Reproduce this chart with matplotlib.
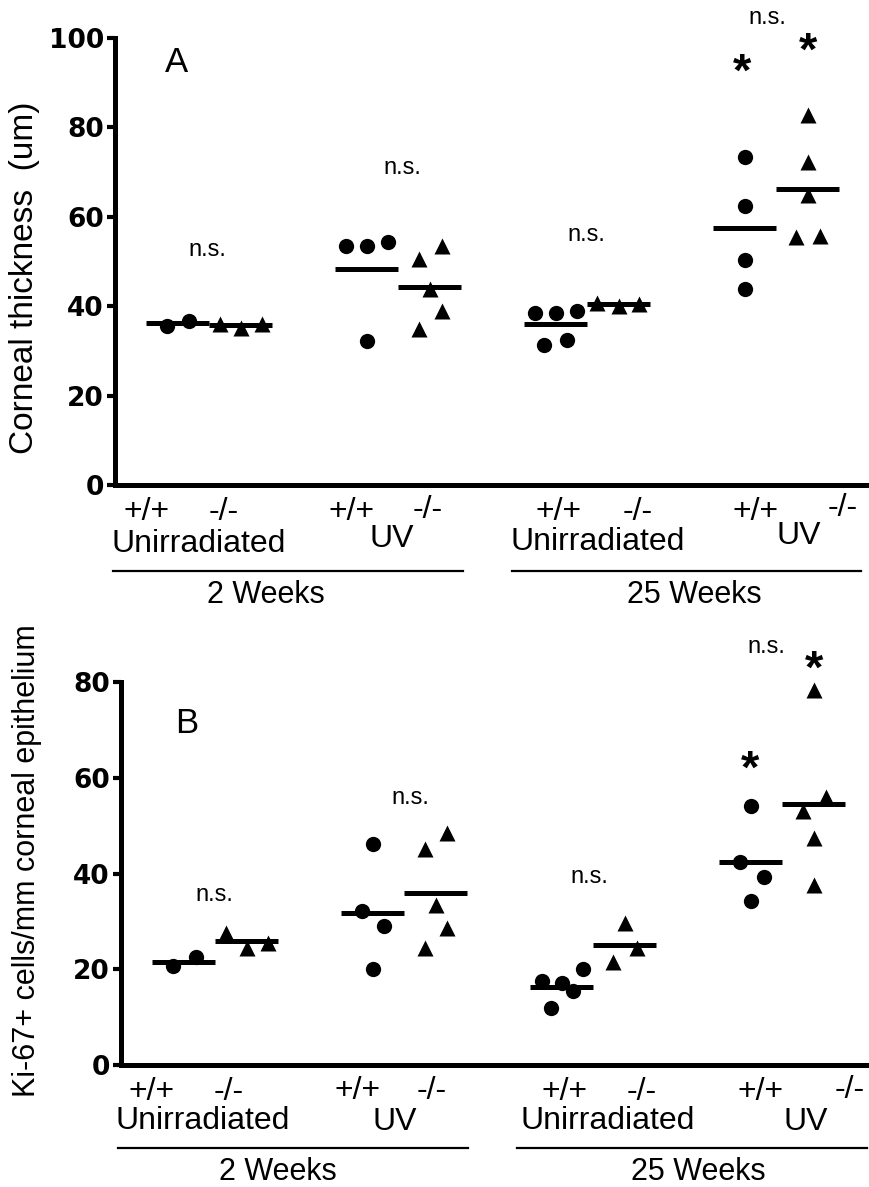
import matplotlib
matplotlib.use("Agg")
import matplotlib.pyplot as plt
from matplotlib.lines import Line2D
import numpy as np

plt.rcParams['font.family'] = ['Liberation Sans', 'DejaVu Sans']

# group order: 2wk unirr +/+, -/-, 2wk UV +/+, -/-, 25wk unirr +/+, -/-, 25wk UV +/+, -/-
group_pos = [0, 1, 3, 4, 6, 7, 9, 10]
genotypes = ['+/+', '-/-', '+/+', '-/-', '+/+', '-/-', '+/+', '-/-']
treatments = ['Unirradiated', 'UV', 'Unirradiated', 'UV']
timepoints = ['2 Weeks', '25 Weeks']

# panel A - corneal thickness (um)
thick_wt_2w_unirr = [35.6, 36.7]
thick_ko_2w_unirr = [36.0, 35.2, 36.0]
thick_wt_2w_uv = [53.5, 53.5, 54.4, 32.2]
thick_ko_2w_uv = [53.5, 50.6, 43.8, 38.9, 34.9]
thick_wt_25w_unirr = [38.5, 38.5, 38.9, 31.3, 32.4]
thick_ko_25w_unirr = [40.8, 40.0, 40.6]
thick_wt_25w_uv = [73.4, 62.4, 50.3, 43.8]
thick_ko_25w_uv = [82.8, 72.3, 64.9, 55.5, 55.7]

# panel B - Ki-67+ cells/mm
ki_wt_2w_unirr = [20.7, 22.5]
ki_ko_2w_unirr = [27.5, 24.5, 25.5]
ki_wt_2w_uv = [46.1, 32.2, 29.0, 20.0]
ki_ko_2w_uv = [48.4, 45.1, 33.4, 28.6, 24.4]
ki_wt_25w_unirr = [17.5, 17.1, 15.4, 20.0, 11.9]
ki_ko_25w_unirr = [29.6, 24.4, 21.5]
ki_wt_25w_uv = [54.1, 42.4, 39.2, 34.2]
ki_ko_25w_uv = [78.3, 56.0, 53.0, 47.4, 37.6]

# horizontal scatter of the points inside a column (x units)
spread_a = [[-0.17, 0.17], [-0.33, 0, 0.33], [-0.33, 0, 0.33, 0],
            [0.19, -0.17, 0, 0.19, -0.17], [-0.33, 0, 0.33, -0.19, 0.17],
            [-0.35, 0, 0.32], [0, 0, 0, 0], [0, 0, 0, -0.19, 0.19]]
spread_b = [[-0.17, 0.19], [-0.33, 0, 0.33], [0, -0.17, 0.17, 0],
            [0.17, -0.17, 0, 0.17, -0.17], [-0.32, 0, 0.17, 0.33, -0.17],
            [0, 0.19, -0.19], [0, -0.17, 0.2, 0], [0, 0.19, -0.17, 0, 0]]

thick_groups = [thick_wt_2w_unirr, thick_ko_2w_unirr, thick_wt_2w_uv, thick_ko_2w_uv,
                thick_wt_25w_unirr, thick_ko_25w_unirr, thick_wt_25w_uv, thick_ko_25w_uv]
ki_groups = [ki_wt_2w_unirr, ki_ko_2w_unirr, ki_wt_2w_uv, ki_ko_2w_uv,
             ki_wt_25w_unirr, ki_ko_25w_unirr, ki_wt_25w_uv, ki_ko_25w_uv]

W, H = 870, 1187
fig = plt.figure(figsize=(W / 100, H / 100), dpi=100)


def fx(x):
    return x / W


def fy(y):
    return 1 - y / H


def draw_panel(ax, groups, spread, ymax, step):
    for i, vals in enumerate(groups):
        xs = group_pos[i] + np.array(spread[i])
        mk = 'o' if i % 2 == 0 else '^'
        ax.plot(xs, vals, mk, color='black', ms=11 if mk == 'o' else 11.5,
                mec='none', clip_on=False, zorder=3)
        ax.plot([group_pos[i] - 0.5, group_pos[i] + 0.5], [np.mean(vals)] * 2,
                color='black', lw=3.6, solid_capstyle='butt', zorder=2)
    ax.set_xlim(-1, 11)
    ax.set_ylim(0, ymax)
    ax.set_yticks(np.arange(0, ymax + 1, step))
    ax.set_xticks([])
    for s in ['top', 'right']:
        ax.spines[s].set_visible(False)
    for s in ['left', 'bottom']:
        ax.spines[s].set_linewidth(3.6)
    ax.tick_params(axis='y', length=6, width=3, pad=2, labelsize=19)
    for lab in ax.get_yticklabels():
        lab.set_fontweight('bold')
        lab.set_family('DejaVu Sans')


def draw_bottom(row_x, row_y, treat_x, treat_y, lines, time_x, time_y):
    for lab, x, y in zip(genotypes, row_x, row_y):
        fig.text(fx(x), fy(y), lab, ha='center', va='center', fontsize=23)
    for lab, x, y in zip(treatments, treat_x, treat_y):
        fig.text(fx(x), fy(y), lab, ha='center', va='center', fontsize=23)
    for x0, x1, y in lines:
        fig.add_artist(Line2D([fx(x0), fx(x1)], [fy(y), fy(y)], color='black', lw=1.6))
    for lab, x in zip(timepoints, time_x):
        fig.text(fx(x), fy(time_y), lab, ha='center', va='center', fontsize=22)


# panel A
axA = fig.add_axes([fx(115), fy(485), 756 / W, (485 - 38) / H])
draw_panel(axA, thick_groups, spread_a, 100, 20)
axA.text(-0.03, 94.6, 'A', fontsize=25, ha='center', va='center')
for x, y in [(0.46, 52.6), (3.56, 70.9), (6.49, 55.9), (9.35, 104.5)]:
    axA.text(x, y, 'n.s.', fontsize=17, ha='center', va='center', clip_on=False)
for x, y in [(8.95, 92.0), (10.0, 96.7)]:
    axA.text(x, y, '*', fontsize=34, fontweight='bold', ha='center', va='center', clip_on=False)
fig.text(fx(25), fy(278), 'Corneal thickness  (um)', rotation=90, ha='center', va='center', fontsize=24)
draw_bottom([147, 224, 352, 428, 559, 638, 756, 843], [512, 512, 512, 510, 512, 512, 512, 508],
            [199, 392, 598, 799], [544, 539, 542, 536],
            [(113, 463, 571), (512, 861, 571)], [266, 694], 595)

# panel B
axB = fig.add_axes([fx(121), fy(1065), 756 / W, (1065 - 682) / H])
draw_panel(axB, ki_groups, spread_b, 80, 20)
axB.text(0.05, 71.4, 'B', fontsize=25, ha='center', va='center')
for x, y in [(0.48, 35.5), (3.59, 55.7), (6.43, 39.2), (9.25, 87.3)]:
    axB.text(x, y, 'n.s.', fontsize=17, ha='center', va='center', clip_on=False)
for x, y in [(8.98, 61.5), (10.0, 82.3)]:
    axB.text(x, y, '*', fontsize=34, fontweight='bold', ha='center', va='center', clip_on=False)
fig.text(fx(27), fy(861), 'Ki-67+ cells/mm corneal epithelium', rotation=90, ha='center', va='center', fontsize=22)
draw_bottom([152, 229, 358, 432, 565, 642, 761, 850], [1092, 1092, 1091, 1091, 1092, 1092, 1092, 1090],
            [203, 395, 608, 806], [1121, 1122, 1121, 1122],
            [(118, 468, 1148), (517, 867, 1148)], [278, 698], 1172)

fig.savefig('out.png', dpi=100)
